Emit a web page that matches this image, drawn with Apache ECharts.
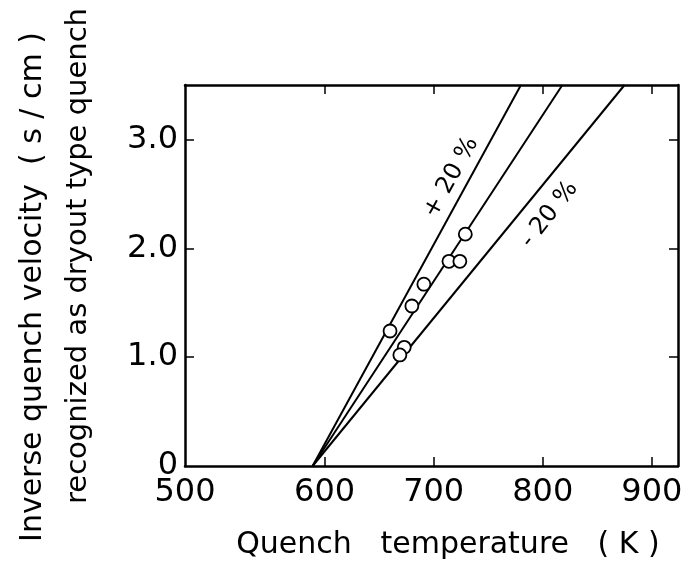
<!DOCTYPE html>
<html>
<head>
<meta charset="utf-8">
<script src="https://cdn.jsdelivr.net/npm/echarts@6/dist/echarts.min.js"></script>
<style>
  html, body { margin: 0; padding: 0; background: #fff; }
  #chart { width: 686px; height: 566px; }
</style>
</head>
<body>
<div id="chart"></div>
<script>
// axis ranges (left edge of the frame is labelled 500 in the original figure)
const X_MIN = 472;
const X_MAX = 924;
const Y_MIN = 0;
const Y_MAX = 3.5;

const xTickValues = [600, 700, 800, 900];
const xLabelValues = [X_MIN, 600, 700, 800, 900];
const xLabelText = ['500', '600', '700', '800', '900'];
const yTickValues = [1, 2, 3];
const yLabelValues = [0, 1, 2, 3];
const yLabelText = ['0', '1.0', '2.0', '3.0'];

// measured points: quench temperature (K) vs inverse quench velocity (s/cm)
const quenchTemp = [729, 714, 724, 691, 680, 660, 673, 669];
const inverseVelocity = [2.13, 1.88, 1.88, 1.67, 1.47, 1.24, 1.09, 1.02];

// correlation line and +/-20 % band
const lineCentral = [[589, 0], [818, 3.5]];
const linePlus20 = [[589, 0], [780, 3.5]];
const lineMinus20 = [[589, 0], [875, 3.5]];

const bandLabels = ['+ 20 %', '- 20 %'];
const bandLabelAt = [[716, 2.65], [806, 2.31]];

const FONT = 'DejaVu Sans';

const chart = echarts.init(document.getElementById('chart'), null, { renderer: 'canvas' });

const frameLine = { show: true, onZero: false, lineStyle: { color: '#000', width: 2.5 } };
const innerTick = (values) => ({
  show: true, inside: true, length: 9, customValues: values,
  lineStyle: { color: '#000', width: 1.5 }
});

const lineSeries = (data) => ({
  type: 'line',
  data: data,
  symbol: 'none',
  silent: true,
  z: 2,
  lineStyle: { color: '#000', width: 2 }
});

const option = {
  backgroundColor: '#fff',
  animation: false,
  grid: { left: 185, right: 8, top: 85, bottom: 100, containLabel: false },
  xAxis: [
    {
      type: 'value', min: X_MIN, max: X_MAX, position: 'bottom',
      axisLine: frameLine,
      axisTick: innerTick(xTickValues),
      splitLine: { show: false },
      axisLabel: {
        customValues: xLabelValues,
        formatter: (v) => xLabelText[xLabelValues.indexOf(v)],
        color: '#000', fontFamily: FONT, fontSize: 32, margin: 11
      }
    },
    {
      type: 'value', min: X_MIN, max: X_MAX, position: 'top',
      axisLine: frameLine,
      axisTick: innerTick(xTickValues),
      axisLabel: { show: false },
      splitLine: { show: false }
    }
  ],
  yAxis: [
    {
      type: 'value', min: Y_MIN, max: Y_MAX, position: 'left',
      axisLine: frameLine,
      axisTick: innerTick(yTickValues),
      splitLine: { show: false },
      axisLabel: {
        customValues: yLabelValues,
        formatter: (v) => yLabelText[yLabelValues.indexOf(v)],
        color: '#000', fontFamily: FONT, fontSize: 32, margin: 7
      }
    },
    {
      type: 'value', min: Y_MIN, max: Y_MAX, position: 'right',
      axisLine: frameLine,
      axisTick: innerTick(yTickValues),
      axisLabel: { show: false },
      splitLine: { show: false }
    }
  ],
  graphic: [
    {
      type: 'text', x: 33, y: 287, rotation: Math.PI / 2,
      style: {
        text: 'Inverse quench velocity  ( s / cm )',
        fill: '#000', font: '30px "DejaVu Sans"',
        align: 'center', verticalAlign: 'middle'
      }
    },
    {
      type: 'text', x: 78, y: 256, rotation: Math.PI / 2,
      style: {
        text: 'recognized as dryout type quench',
        fill: '#000', font: '29px "DejaVu Sans"',
        align: 'center', verticalAlign: 'middle'
      }
    },
    {
      type: 'text', x: 448, y: 545,
      style: {
        text: 'Quench   temperature   ( K )',
        fill: '#000', font: '30px "DejaVu Sans"',
        align: 'center', verticalAlign: 'middle'
      }
    }
  ],
  series: [
    lineSeries(lineCentral),
    lineSeries(linePlus20),
    lineSeries(lineMinus20),
    {
      type: 'scatter',
      data: quenchTemp.map((t, i) => [t, inverseVelocity[i]]),
      symbol: 'circle',
      symbolSize: 13,
      z: 3,
      itemStyle: { color: '#fff', borderColor: '#000', borderWidth: 1.8, opacity: 1 }
    },
    {
      type: 'scatter',
      data: bandLabelAt.map((p, i) => ({ value: p, name: bandLabels[i] })),
      symbolSize: 0,
      silent: true,
      itemStyle: { opacity: 1, color: '#000' },
      label: {
        show: true,
        position: 'inside',
        formatter: (p) => p.name,
        color: '#000', textBorderWidth: 0, opacity: 1,
        fontFamily: FONT, fontSize: 24
      },
      labelLayout: (params) => ({ rotate: params.dataIndex === 0 ? 61 : 52 })
    }
  ]
};

chart.setOption(option);
</script>
</body>
</html>
